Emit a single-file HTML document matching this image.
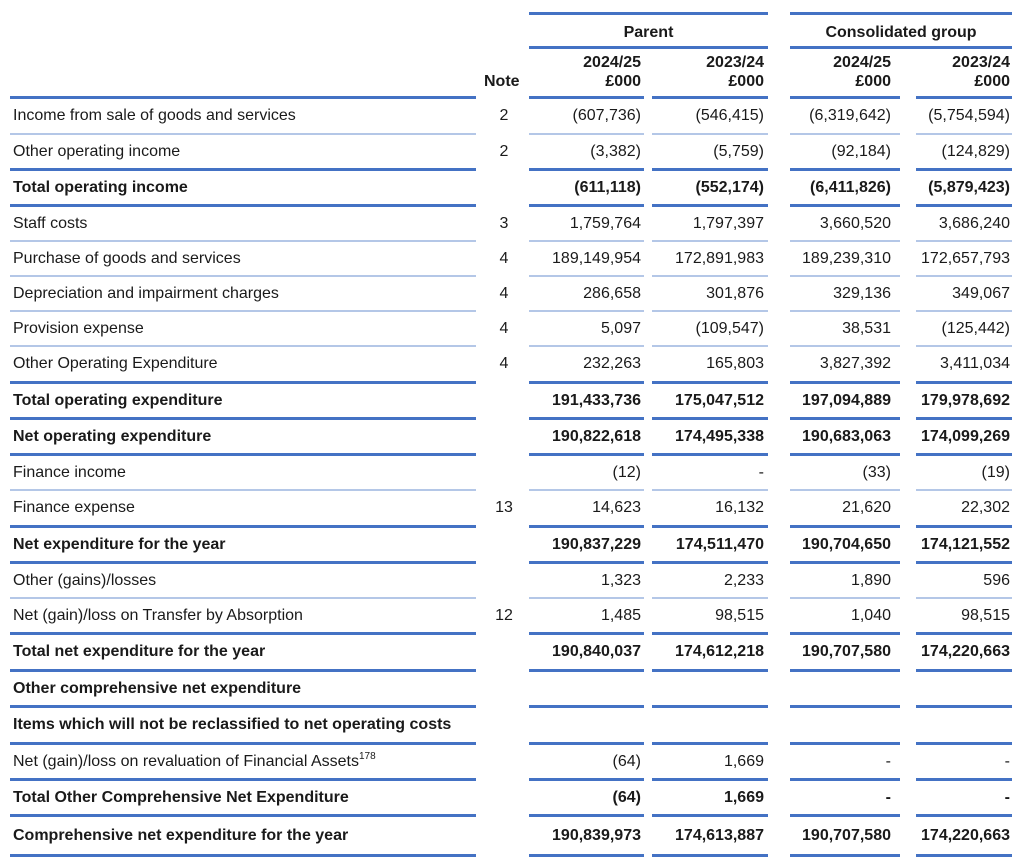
<!DOCTYPE html><html><head><meta charset="utf-8"><style>
body{margin:0;width:1024px;height:865px;background:#fff;position:relative;font-family:"Liberation Sans",Arial,sans-serif;font-size:16px;color:#1a1a1a;overflow:hidden}
.s{position:absolute;left:0;width:1024px;height:3px}
.s i{position:absolute;top:0;height:3px;background:#4472c4}
.s.t i{height:2px;background:#b4c7e7}
.s i:nth-child(1){left:10px;width:466px}.s i:nth-child(2){left:529px;width:115px}.s i:nth-child(3){left:652px;width:116px}.s i:nth-child(4){left:790px;width:110px}.s i:nth-child(5){left:916px;width:96px}
.r{position:absolute;left:0;width:1024px}
.r span{position:absolute;white-space:nowrap}
.a{left:13px}.n{left:490px;width:28px;text-align:center}
.c1{right:383px}.c2{right:260px}.c3{right:133px}.c4{right:14px}
.b{font-weight:bold}
.h{position:absolute;font-weight:bold;text-align:right;line-height:19px}
sup{font-size:10px;vertical-align:baseline;position:relative;top:-7px;line-height:0}
</style></head><body>
<div style="position:absolute;top:12px;left:529px;width:239px;height:3px;background:#4472c4"></div>
<div style="position:absolute;top:12px;left:790px;width:222px;height:3px;background:#4472c4"></div>
<div style="position:absolute;top:46px;left:529px;width:239px;height:3px;background:#4472c4"></div>
<div style="position:absolute;top:46px;left:790px;width:222px;height:3px;background:#4472c4"></div>
<div class="h" style="top:23px;left:529px;width:239px;text-align:center">Parent</div>
<div class="h" style="top:23px;left:790px;width:222px;text-align:center">Consolidated group</div>
<div class="h" style="top:53px;right:383px">2024/25<br>£000</div>
<div class="h" style="top:53px;right:260px">2023/24<br>£000</div>
<div class="h" style="top:53px;right:133px">2024/25<br>£000</div>
<div class="h" style="top:53px;right:14px">2023/24<br>£000</div>
<div class="h" style="top:72px;left:484px">Note</div>

<div class="s" style="top:96px"><i></i><i></i><i></i><i></i><i></i></div>
<div class="r" style="top:99px;line-height:33px"><span class="a">Income from sale of goods and services</span><span class="n">2</span><span class="c1">(607,736)</span><span class="c2">(546,415)</span><span class="c3">(6,319,642)</span><span class="c4">(5,754,594)</span></div>
<div class="s t" style="top:133px"><i></i><i></i><i></i><i></i><i></i></div>
<div class="r" style="top:135px;line-height:33px"><span class="a">Other operating income</span><span class="n">2</span><span class="c1">(3,382)</span><span class="c2">(5,759)</span><span class="c3">(92,184)</span><span class="c4">(124,829)</span></div>
<div class="s" style="top:168px"><i></i><i></i><i></i><i></i><i></i></div>
<div class="r b" style="top:171px;line-height:33px"><span class="a">Total operating income</span><span class="c1">(611,118)</span><span class="c2">(552,174)</span><span class="c3">(6,411,826)</span><span class="c4">(5,879,423)</span></div>
<div class="s" style="top:204px"><i></i><i></i><i></i><i></i><i></i></div>
<div class="r" style="top:207px;line-height:33px"><span class="a">Staff costs</span><span class="n">3</span><span class="c1">1,759,764</span><span class="c2">1,797,397</span><span class="c3">3,660,520</span><span class="c4">3,686,240</span></div>
<div class="s t" style="top:240px"><i></i><i></i><i></i><i></i><i></i></div>
<div class="r" style="top:242px;line-height:33px"><span class="a">Purchase of goods and services</span><span class="n">4</span><span class="c1">189,149,954</span><span class="c2">172,891,983</span><span class="c3">189,239,310</span><span class="c4">172,657,793</span></div>
<div class="s t" style="top:275px"><i></i><i></i><i></i><i></i><i></i></div>
<div class="r" style="top:277px;line-height:33px"><span class="a">Depreciation and impairment charges</span><span class="n">4</span><span class="c1">286,658</span><span class="c2">301,876</span><span class="c3">329,136</span><span class="c4">349,067</span></div>
<div class="s t" style="top:310px"><i></i><i></i><i></i><i></i><i></i></div>
<div class="r" style="top:312px;line-height:33px"><span class="a">Provision expense</span><span class="n">4</span><span class="c1">5,097</span><span class="c2">(109,547)</span><span class="c3">38,531</span><span class="c4">(125,442)</span></div>
<div class="s t" style="top:345px"><i></i><i></i><i></i><i></i><i></i></div>
<div class="r" style="top:347px;line-height:33px"><span class="a">Other Operating Expenditure</span><span class="n">4</span><span class="c1">232,263</span><span class="c2">165,803</span><span class="c3">3,827,392</span><span class="c4">3,411,034</span></div>
<div class="s" style="top:381px"><i></i><i></i><i></i><i></i><i></i></div>
<div class="r b" style="top:384px;line-height:33px"><span class="a">Total operating expenditure</span><span class="c1">191,433,736</span><span class="c2">175,047,512</span><span class="c3">197,094,889</span><span class="c4">179,978,692</span></div>
<div class="s" style="top:417px"><i></i><i></i><i></i><i></i><i></i></div>
<div class="r b" style="top:420px;line-height:33px"><span class="a">Net operating expenditure</span><span class="c1">190,822,618</span><span class="c2">174,495,338</span><span class="c3">190,683,063</span><span class="c4">174,099,269</span></div>
<div class="s" style="top:453px"><i></i><i></i><i></i><i></i><i></i></div>
<div class="r" style="top:456px;line-height:33px"><span class="a">Finance income</span><span class="c1">(12)</span><span class="c2">-</span><span class="c3">(33)</span><span class="c4">(19)</span></div>
<div class="s t" style="top:489px"><i></i><i></i><i></i><i></i><i></i></div>
<div class="r" style="top:491px;line-height:33px"><span class="a">Finance expense</span><span class="n">13</span><span class="c1">14,623</span><span class="c2">16,132</span><span class="c3">21,620</span><span class="c4">22,302</span></div>
<div class="s" style="top:525px"><i></i><i></i><i></i><i></i><i></i></div>
<div class="r b" style="top:528px;line-height:33px"><span class="a">Net expenditure for the year</span><span class="c1">190,837,229</span><span class="c2">174,511,470</span><span class="c3">190,704,650</span><span class="c4">174,121,552</span></div>
<div class="s" style="top:561px"><i></i><i></i><i></i><i></i><i></i></div>
<div class="r" style="top:564px;line-height:33px"><span class="a">Other (gains)/losses</span><span class="c1">1,323</span><span class="c2">2,233</span><span class="c3">1,890</span><span class="c4">596</span></div>
<div class="s t" style="top:597px"><i></i><i></i><i></i><i></i><i></i></div>
<div class="r" style="top:599px;line-height:33px"><span class="a">Net (gain)/loss on Transfer by Absorption</span><span class="n">12</span><span class="c1">1,485</span><span class="c2">98,515</span><span class="c3">1,040</span><span class="c4">98,515</span></div>
<div class="s" style="top:632px"><i></i><i></i><i></i><i></i><i></i></div>
<div class="r b" style="top:635px;line-height:34px"><span class="a">Total net expenditure for the year</span><span class="c1">190,840,037</span><span class="c2">174,612,218</span><span class="c3">190,707,580</span><span class="c4">174,220,663</span></div>
<div class="s" style="top:669px"><i></i><i></i><i></i><i></i><i></i></div>
<div class="r b" style="top:672px;line-height:34px"><span class="a">Other comprehensive net expenditure</span></div>
<div class="s" style="top:705px"><i></i><i></i><i></i><i></i><i></i></div>
<div class="r b" style="top:708px;line-height:34px"><span class="a">Items which will not be reclassified to net operating costs</span></div>
<div class="s" style="top:742px"><i></i><i></i><i></i><i></i><i></i></div>
<div class="r" style="top:745px;line-height:34px"><span class="a">Net (gain)/loss on revaluation of Financial Assets<sup>178</sup></span><span class="c1">(64)</span><span class="c2">1,669</span><span class="c3">-</span><span class="c4">-</span></div>
<div class="s" style="top:778px"><i></i><i></i><i></i><i></i><i></i></div>
<div class="r b" style="top:781px;line-height:34px"><span class="a">Total Other Comprehensive Net Expenditure</span><span class="c1">(64)</span><span class="c2">1,669</span><span class="c3">-</span><span class="c4">-</span></div>
<div class="s" style="top:814px"><i></i><i></i><i></i><i></i><i></i></div>
<div class="r b" style="top:817px;line-height:37px"><span class="a">Comprehensive net expenditure for the year</span><span class="c1">190,839,973</span><span class="c2">174,613,887</span><span class="c3">190,707,580</span><span class="c4">174,220,663</span></div>
<div class="s" style="top:854px"><i></i><i></i><i></i><i></i><i></i></div>
</body></html>
